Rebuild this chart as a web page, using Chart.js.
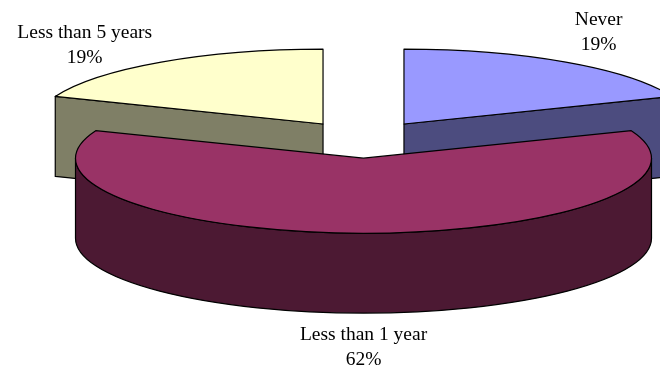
<!DOCTYPE html>
<html>
<head>
<meta charset="utf-8">
<script src="https://cdn.jsdelivr.net/npm/chart.js@4/dist/chart.umd.min.js"></script>
<style>
  html, body { margin: 0; padding: 0; background: #ffffff; overflow: hidden; }
  #wrap { width: 660px; height: 368px; }
</style>
</head>
<body>
<div id="wrap"><canvas id="chart" width="660" height="368"></canvas></div>
<script>
// Categories and their shares (percent)
const categories = ['Never', 'Less than 1 year', 'Less than 5 years'];
const shares = [19, 62, 19];

// Face colours: lit top and shaded sides
const topColors = ['#9999FF', '#993366', '#FFFFCC'];
const sideColors = ['#4C4C7F', '#4C1933', '#7F7F66'];

// Disc geometry
const TILT = 0.26;     // vertical squash of the disc seen at an angle
const DEPTH = 80;      // thickness of the disc
const EDGE = '#000000';
const LABEL_FONT = "19.5px 'Liberation Serif', 'Times New Roman', serif";
const LINE_GAP = 25;
const labelLift = [-12, 0, 1];

// Draws the pie as an exploded, tilted disc using the arcs laid out by Chart.js
const pie3d = {
  id: 'pie3d',
  beforeDatasetsDraw(chart) {
    const ctx = chart.ctx;
    const arcs = chart.getDatasetMeta(0).data;
    const total = shares.reduce((a, b) => a + b, 0);

    const slices = arcs.map((arc, i) => {
      const p = arc.getProps(['x', 'y', 'startAngle', 'endAngle', 'outerRadius'], true);
      const mid = (p.startAngle + p.endAngle) / 2;
      const off = arc.options.offset || 0;
      return {
        i, s: p.startAngle, e: p.endAngle, mid,
        R: p.outerRadius, r: p.outerRadius * TILT,
        cx: p.x + Math.cos(mid) * off,
        cy: p.y + Math.sin(mid) * off * TILT
      };
    });

    const rim = (sl, a, dz) => [sl.cx + sl.R * Math.cos(a), sl.cy + sl.r * Math.sin(a) + (dz || 0)];

    ctx.save();
    ctx.lineJoin = 'round';
    ctx.lineWidth = 1.2;
    ctx.strokeStyle = EDGE;

    const order = slices.slice().sort((a, b) => Math.sin(a.mid) - Math.sin(b.mid));
    order.forEach(sl => {
      ctx.fillStyle = sideColors[sl.i];

      // radial cut faces turned towards the viewer
      const face = (a) => {
        const [x, y] = rim(sl, a);
        ctx.beginPath();
        ctx.moveTo(sl.cx, sl.cy);
        ctx.lineTo(x, y);
        ctx.lineTo(x, y + DEPTH);
        ctx.lineTo(sl.cx, sl.cy + DEPTH);
        ctx.closePath();
        ctx.fill();
        ctx.stroke();
      };
      if (Math.cos(sl.s) < -1e-6) face(sl.s);
      if (Math.cos(sl.e) > 1e-6) face(sl.e);

      // outer wall on the front half of the disc
      const a0 = Math.max(sl.s, 0), a1 = Math.min(sl.e, Math.PI);
      if (a1 > a0) {
        ctx.beginPath();
        ctx.ellipse(sl.cx, sl.cy, sl.R, sl.r, 0, a0, a1, false);
        ctx.ellipse(sl.cx, sl.cy + DEPTH, sl.R, sl.r, 0, a1, a0, true);
        ctx.closePath();
        ctx.fill();
        ctx.stroke();
      }

      // top face
      const [sx, sy] = rim(sl, sl.s);
      ctx.beginPath();
      ctx.moveTo(sl.cx, sl.cy);
      ctx.lineTo(sx, sy);
      ctx.ellipse(sl.cx, sl.cy, sl.R, sl.r, 0, sl.s, sl.e, false);
      ctx.closePath();
      ctx.fillStyle = topColors[sl.i];
      ctx.fill();
      ctx.stroke();
    });

    // category and percentage labels outside each slice
    ctx.font = LABEL_FONT;
    ctx.fillStyle = '#000000';
    ctx.textAlign = 'center';
    ctx.textBaseline = 'alphabetic';
    slices.forEach(sl => {
      const lines = [categories[sl.i], Math.round(shares[sl.i] / total * 100) + '%'];
      const w = Math.max(...lines.map(t => ctx.measureText(t).width));
      const c = Math.cos(sl.mid), s = Math.sin(sl.mid);
      let [ax, ay] = rim(sl, sl.mid, s > 0 ? DEPTH : 0);
      let x, y0;
      if (Math.abs(c) < 0.3 && s > 0) {
        x = ax;
        y0 = ay + 27;
      } else {
        x = ax + Math.sign(c) * (9 + w / 2);
        y0 = ay + labelLift[sl.i] - LINE_GAP * (lines.length - 1);
      }
      lines.forEach((t, k) => ctx.fillText(t, x, y0 + k * LINE_GAP));
    });

    ctx.restore();
    return false;
  }
};

new Chart(document.getElementById('chart'), {
  type: 'pie',
  data: {
    labels: categories,
    datasets: [{
      data: shares,
      backgroundColor: topColors,
      offset: 72,
      hoverOffset: 0,
      borderWidth: 0
    }]
  },
  options: {
    responsive: false,
    animation: false,
    devicePixelRatio: 1,
    radius: 288,
    layout: { padding: { left: 67, right: 0, top: 0, bottom: 89 } },
    events: [],
    plugins: {
      legend: { display: false },
      tooltip: { enabled: false },
      title: { display: false }
    }
  },
  plugins: [pie3d]
});
</script>
</body>
</html>
